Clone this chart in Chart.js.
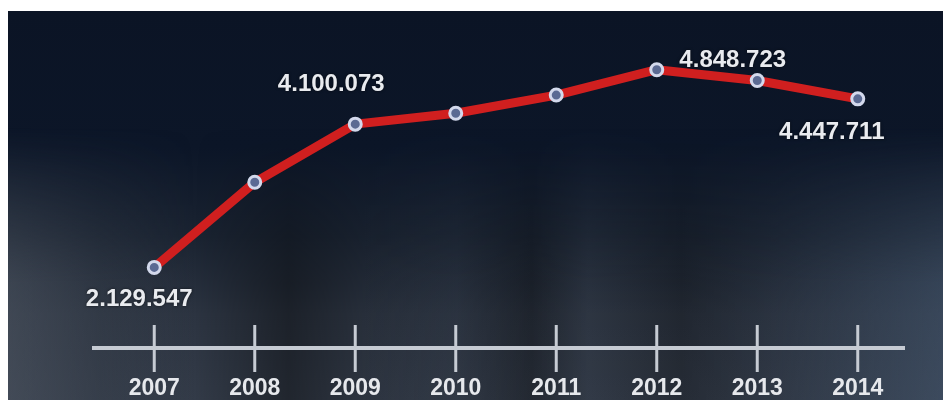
<!DOCTYPE html>
<html>
<head>
<meta charset="utf-8">
<script src="https://cdn.jsdelivr.net/npm/chart.js@4.4.1/dist/chart.umd.min.js"></script>
<style>
  html, body { margin: 0; padding: 0; background: #fff; }
  body { width: 943px; height: 400px; position: relative; overflow: hidden; }
  #panel {
    position: absolute; left: 8px; top: 11px; width: 935px; height: 389px;
    background: linear-gradient(to bottom, #0b1425 0%, #0c1628 35%, #1a2331 58%, #2c3441 78%, #333b48 100%);
  }
  #bands {
    position: absolute; left: 0; right: 0; top: 0; bottom: 0;
    background: linear-gradient(to right,
      rgba(80,88,100,0.55) 0%, rgba(60,68,80,0.35) 10%, rgba(0,0,0,0) 20%,
      rgba(0,0,0,0.35) 30%, rgba(0,0,0,0.1) 38%, rgba(40,48,60,0.2) 48%,
      rgba(0,0,0,0.3) 56%, rgba(50,58,70,0.25) 62%, rgba(0,0,0,0.25) 72%,
      rgba(40,50,65,0.2) 82%, rgba(70,90,115,0.5) 100%);
    -webkit-mask-image: linear-gradient(to bottom, transparent 30%, black 70%);
    mask-image: linear-gradient(to bottom, transparent 30%, black 70%);
  }
  #wrap { position: absolute; left: 0; top: 0; width: 943px; height: 400px; }
</style>
</head>
<body>
<div id="panel"><div id="bands"></div></div>
<div id="wrap"><canvas id="chart" width="943" height="400"></canvas></div>
<script>
// data (labelled values are exact, the others are estimates)
const years = ['2007', '2008', '2009', '2010', '2011', '2012', '2013', '2014'];
const visitors = [2129547, 3300000, 4100073, 4250000, 4500000, 4848723, 4700000, 4447711];
const labelledPoints = [0, 2, 5, 7];

// where each value label sits relative to its point
const labelOffsets = { 0: [-15, 32], 2: [-24, -40], 5: [76, -9], 7: [-26, 34] };

function dotted(n) {
    return String(n).replace(/\B(?=(\d{3})+(?!\d))/g, '.');
}

const axisPlugin = {
    id: 'timeline',
    beforeDatasetsDraw(chart) {
        const ctx = chart.ctx;
        const x = chart.scales.x;
        ctx.save();
        ctx.strokeStyle = '#c6cbd3';
        ctx.lineCap = 'butt';
        ctx.lineWidth = 4;
        ctx.beginPath();
        ctx.moveTo(92, 348);
        ctx.lineTo(905, 348);
        ctx.stroke();
        ctx.lineWidth = 3;
        years.forEach((y, i) => {
            const px = x.getPixelForValue(i);
            ctx.beginPath();
            ctx.moveTo(px, 325);
            ctx.lineTo(px, 372);
            ctx.stroke();
        });
        ctx.restore();
    }
};

const valueLabels = {
    id: 'valueLabels',
    afterDatasetsDraw(chart) {
        const ctx = chart.ctx;
        const meta = chart.getDatasetMeta(0);
        ctx.save();
        ctx.font = 'bold 24px "Liberation Sans", Arial, sans-serif';
        ctx.textAlign = 'center';
        ctx.textBaseline = 'middle';
        ctx.fillStyle = '#e9ebef';
        ctx.shadowColor = 'rgba(0,0,0,0.6)';
        ctx.shadowBlur = 3;
        labelledPoints.forEach(i => {
            const pt = meta.data[i];
            const off = labelOffsets[i];
            ctx.fillText(dotted(visitors[i]), pt.x + off[0], pt.y + off[1]);
        });
        ctx.restore();
    }
};

const ctx = document.getElementById('chart').getContext('2d');
new Chart(ctx, {
    type: 'line',
    data: {
        labels: years,
        datasets: [{
            data: visitors,
            borderColor: '#d01f1f',
            borderWidth: 9,
            borderCapStyle: 'round',
            borderJoinStyle: 'round',
            tension: 0,
            pointRadius: 6,
            pointBackgroundColor: '#5b6a93',
            pointBorderColor: '#d3d9ec',
            pointBorderWidth: 3
        }]
    },
    options: {
        responsive: false,
        animation: false,
        layout: { padding: { left: 104, right: 35, top: 30, bottom: 0 } },
        plugins: { legend: { display: false }, tooltip: { enabled: false } },
        scales: {
            x: {
                offset: true,
                afterFit: (scale) => { scale.height = 80; },
                grid: { display: false, drawTicks: false },
                border: { display: false },
                ticks: {
                    color: '#e6e8ec',
                    padding: 55,
                    font: { family: '"Liberation Sans", Arial, sans-serif', size: 23, weight: 'bold' }
                }
            },
            y: {
                display: false,
                min: 1406000,
                max: 5395000
            }
        }
    },
    plugins: [axisPlugin, valueLabels]
});
</script>
</body>
</html>
